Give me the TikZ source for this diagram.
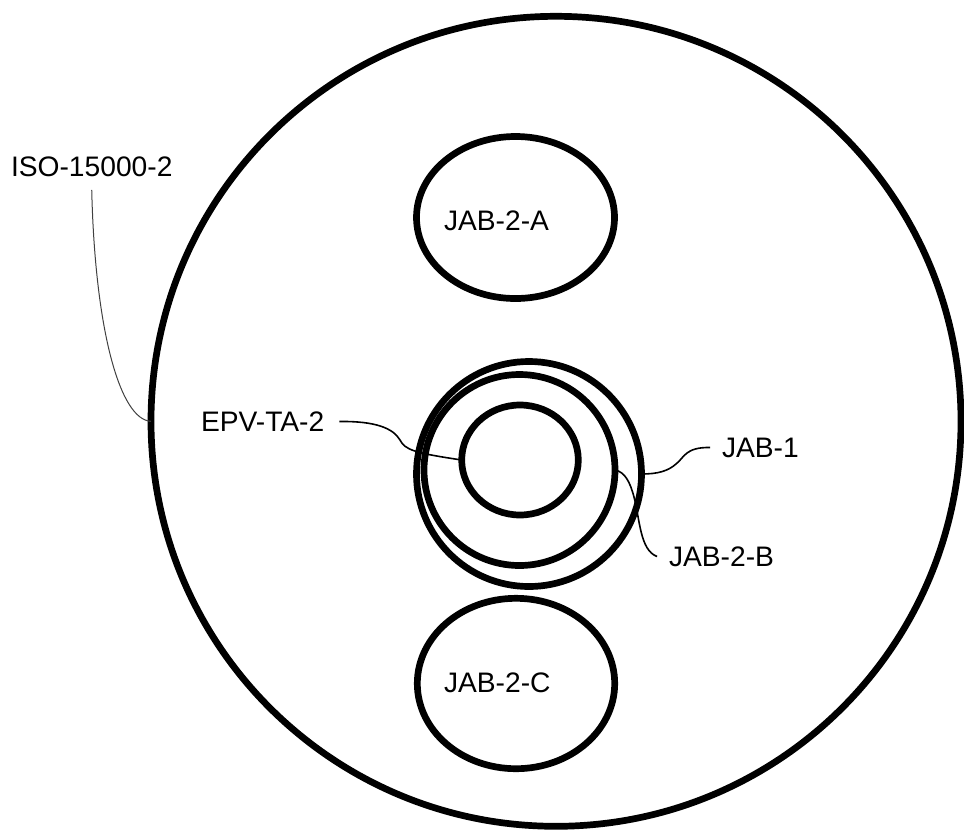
\documentclass[tikz,border=0pt]{standalone}
\usepackage{fontspec}
\setmainfont{Liberation Sans}
\usetikzlibrary{shapes.geometric}
\begin{document}
\begin{tikzpicture}[x=1pt,y=-1pt,
  ring/.style={draw=black,line width=6.7pt,shape=ellipse,inner sep=0pt,outer sep=0pt},
  lab/.style={inner sep=0pt,outer sep=0pt,anchor=west,font=\fontsize{28.2}{30}\selectfont},
  lead/.style={draw=black,line width=1.6pt},
  thinlead/.style={draw=black!75,line width=1pt}]
\useasboundingbox (0,0) rectangle (964,831);
% shapes
\node[ring,minimum width=810pt,minimum height=810pt] (iso) at (556,421.3) {};
\node[ring,minimum width=198pt,minimum height=162pt] (a) at (515.5,217.5) {};
\node[ring,minimum width=197.4pt,minimum height=170.4pt] (c) at (516,683.5) {};
\node[ring,minimum width=225pt,minimum height=225pt] (j1) at (529,474) {};
\node[ring,minimum width=191pt,minimum height=191pt] (j2b) at (519.5,470) {};
\node[ring,minimum width=116.6pt,minimum height=110pt] (epv) at (520,460) {};
% labels
\node[lab] (isolab) at (11,166.5) {ISO-15000-2};
\node[lab] (alab) at (444,221) {JAB-2-A};
\node[lab] (clab) at (444,683) {JAB-2-C};
\node[lab] (epvlab) at (201,421.5) {EPV-TA-2};
\node[lab] (j1lab) at (722,447.5) {JAB-1};
\node[lab] (j2blab) at (669,556.5) {JAB-2-B};
% connectors
\draw[thinlead] ([yshift=-13.5pt]isolab.south) .. controls (95,330) and (120,420) .. (iso.west);
\draw[lead] ([xshift=15pt]epvlab.east) .. controls (375,421) and (393,428) .. (400,440)
  .. controls (405,450) and (415,453) .. (epv.west);
\draw[lead] ([xshift=-12pt]j1lab.west) .. controls (685,447) and (684,458) .. (676,464)
  .. controls (668,471) and (658,474) .. (j1.east);
\draw[lead] ([xshift=-12pt]j2blab.west) .. controls (640,550) and (640,520) .. (634,497)
  .. controls (630,482) and (625,472) .. (j2b.east);
\end{tikzpicture}
\end{document}
